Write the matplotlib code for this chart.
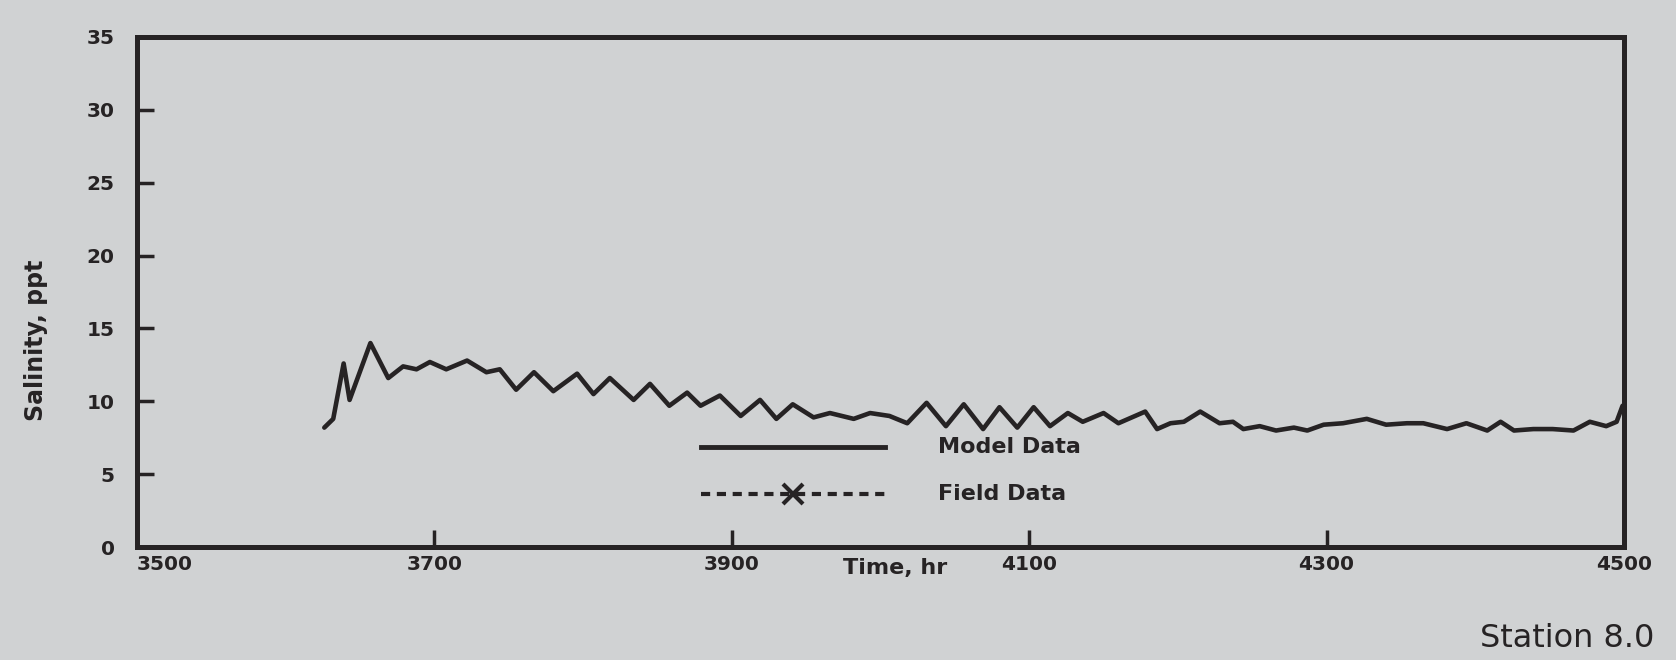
import matplotlib.pyplot as plt
from matplotlib.lines import Line2D

# --- valores (Station 8.0) ---
tempo_modelo = [3626, 3632, 3639, 3643, 3657, 3669, 3679, 3688, 3697, 3708,
                3722, 3735, 3744, 3755, 3767, 3780, 3796, 3807, 3818, 3834,
                3845, 3858, 3870, 3879, 3892, 3906, 3919, 3930, 3941, 3955,
                3966, 3982, 3993, 4006, 4018, 4031, 4044, 4056, 4069, 4080,
                4092, 4103, 4114, 4126, 4136, 4150, 4160, 4178, 4186, 4195,
                4204, 4215, 4228, 4237, 4244, 4255, 4266, 4278, 4287, 4298,
                4311, 4327, 4340, 4354, 4365, 4381, 4394, 4408, 4417, 4426,
                4439, 4452, 4466, 4477, 4488, 4495, 4499]
salinidade_modelo = [8.2, 8.8, 12.6, 10.1, 14.0, 11.6, 12.4, 12.2, 12.7, 12.2,
                     12.8, 12.0, 12.2, 10.8, 12.0, 10.7, 11.9, 10.5, 11.6, 10.1,
                     11.2, 9.7, 10.6, 9.7, 10.4, 9.0, 10.1, 8.8, 9.8, 8.9,
                     9.2, 8.8, 9.2, 9.0, 8.5, 9.9, 8.3, 9.8, 8.1, 9.6,
                     8.2, 9.6, 8.3, 9.2, 8.6, 9.2, 8.5, 9.3, 8.1, 8.5,
                     8.6, 9.3, 8.5, 8.6, 8.1, 8.3, 8.0, 8.2, 8.0, 8.4,
                     8.5, 8.8, 8.4, 8.5, 8.5, 8.1, 8.5, 8.0, 8.6, 8.0,
                     8.1, 8.1, 8.0, 8.6, 8.3, 8.6, 9.7]

# sem dados de campo nesta estação (só aparece na legenda)
tempo_campo = []
salinidade_campo = []

x_ticks = [3500, 3700, 3900, 4100, 4300, 4500]
y_ticks = [0, 5, 10, 15, 20, 25, 30, 35]

FUNDO = '#d0d2d3'
TINTA = '#262324'

fig = plt.figure(figsize=(16.76, 6.6), dpi=100, facecolor=FUNDO)
ax = fig.add_axes([0.0817, 0.171, 0.8873, 0.773])
ax.set_facecolor(FUNDO)

ax.plot(tempo_modelo, salinidade_modelo, '-', color=TINTA, lw=3.3,
        solid_joinstyle='round', solid_capstyle='round')
ax.plot(tempo_campo, salinidade_campo, '--x', color=TINTA, lw=2.5)

ax.set_xlim(3500, 4500)
ax.set_ylim(0, 35)
ax.set_xticks(x_ticks)
ax.set_yticks(y_ticks)
ax.set_xticklabels([str(v) for v in x_ticks])
ax.set_yticklabels([str(v) for v in y_ticks])
ax.get_xticklabels()[0].set_horizontalalignment('left')

for s in ax.spines.values():
    s.set_linewidth(3.6)
    s.set_color(TINTA)

ax.tick_params(axis='both', direction='in', length=12, width=2.5, color=TINTA,
               labelsize=14.5, labelcolor=TINTA)
ax.tick_params(axis='x', pad=6)
ax.tick_params(axis='y', pad=16)
for lbl in ax.get_xticklabels() + ax.get_yticklabels():
    lbl.set_fontweight('bold')

ax.set_xlabel('Time, hr', fontsize=16, fontweight='bold', color=TINTA)
ax.set_ylabel('Salinity, ppt', fontsize=17, fontweight='bold', color=TINTA)
ax.xaxis.set_label_coords(0.51, -0.022)
ax.yaxis.set_label_coords(-0.06, 0.406)

# --- legenda desenhada à mão (coordenadas do eixo) ---
ax.add_line(Line2D([0.379, 0.503], [0.196, 0.196], transform=ax.transAxes,
                   color=TINTA, lw=3.5, zorder=5))
ax.add_line(Line2D([0.379, 0.503], [0.104, 0.104], transform=ax.transAxes,
                   color=TINTA, lw=3, ls=(0, (2.2, 1.6)), zorder=5))
ax.add_line(Line2D([0.441], [0.104], transform=ax.transAxes, color=TINTA,
                   marker='x', markersize=15, mew=3, zorder=6))
ax.text(0.539, 0.196, 'Model Data', transform=ax.transAxes, fontsize=16,
        fontweight='bold', color=TINTA, va='center', zorder=7)
ax.text(0.539, 0.104, 'Field Data', transform=ax.transAxes, fontsize=16,
        fontweight='bold', color=TINTA, va='center', zorder=7)

fig.text(0.883, 0.033, 'Station 8.0', fontsize=23, color=TINTA,
         fontweight='medium', ha='left', va='center')

fig.savefig('out.png', dpi=100, facecolor=FUNDO)
